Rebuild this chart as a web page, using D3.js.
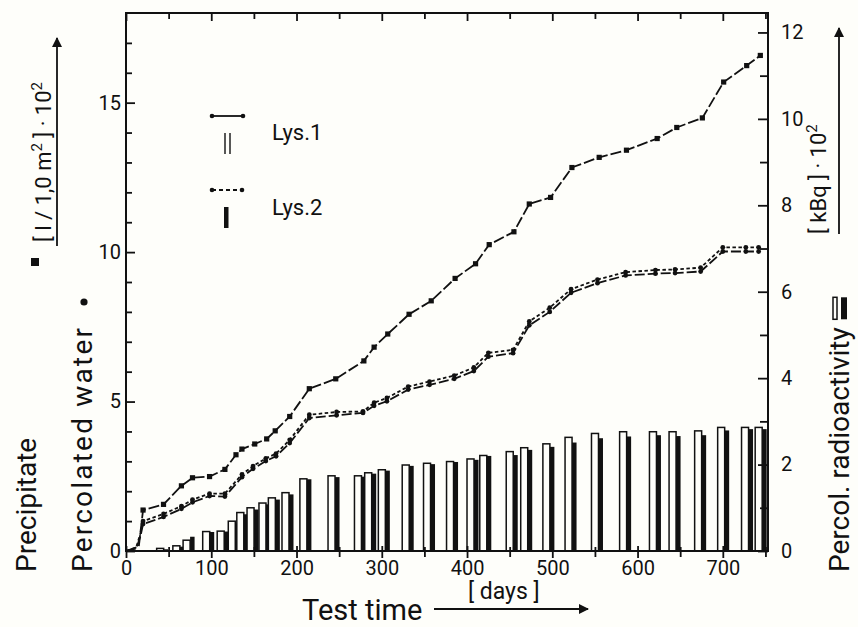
<!DOCTYPE html>
<html>
<head>
<meta charset="utf-8">
<script src="https://cdn.jsdelivr.net/npm/d3@7"></script>
<style>
body { margin: 0; background: #fefefa; }
svg { display: block; font-family: Roboto, "DejaVu Sans", sans-serif; }
</style>
</head>
<body>
<div class="container"></div>
<script>
// precipitation (cumulative, l/1,0m2 * 10^2)
var precipDays = [0, 15, 20, 44, 65, 78, 98, 116, 129, 136, 151, 165, 175, 192, 215, 246, 279, 291, 307, 332, 358, 386, 410, 426, 455, 473, 498, 523, 555, 587, 623, 646, 676, 701, 728, 744];
var precipVals = [0, 0.15, 1.37, 1.56, 2.18, 2.45, 2.49, 2.73, 3.22, 3.41, 3.58, 3.75, 4.02, 4.50, 5.43, 5.76, 6.36, 6.82, 7.26, 7.92, 8.37, 9.12, 9.61, 10.25, 10.68, 11.61, 11.83, 12.83, 13.17, 13.41, 13.80, 14.17, 14.49, 15.69, 16.24, 16.58];

// percolated water
var percDays = [0, 12, 17, 20, 44, 65, 78, 98, 116, 136, 149, 164, 176, 192, 215, 247, 278, 291, 306, 331, 356, 385, 408, 425, 454, 473, 497, 522, 553, 586, 621, 644, 674, 700, 727, 742];
var percLys1 = [0, 0.08, 0.50, 0.90, 1.14, 1.41, 1.63, 1.84, 1.82, 2.47, 2.75, 3.01, 3.17, 3.61, 4.45, 4.54, 4.62, 4.86, 5.01, 5.40, 5.56, 5.76, 6.02, 6.50, 6.62, 7.55, 8.00, 8.64, 8.96, 9.22, 9.28, 9.30, 9.35, 10.02, 10.02, 10.02];
var percLys2 = [0, 0.12, 0.60, 1.00, 1.24, 1.50, 1.72, 1.92, 1.92, 2.56, 2.84, 3.10, 3.26, 3.72, 4.56, 4.65, 4.67, 4.96, 5.12, 5.50, 5.67, 5.87, 6.14, 6.63, 6.73, 7.68, 8.14, 8.76, 9.08, 9.33, 9.40, 9.42, 9.48, 10.16, 10.16, 10.16];

// percolated radioactivity (kBq * 10^2)
var radDays = [43, 62, 74, 97, 114, 127, 137, 149, 163, 174, 190, 211, 244, 275, 287, 303, 331, 356, 383, 407, 422, 453, 470, 496, 522, 553, 586, 621, 644, 674, 701, 729, 745];
var radLys1 = [0.06, 0.12, 0.25, 0.45, 0.46, 0.69, 0.89, 1.00, 1.11, 1.23, 1.35, 1.67, 1.74, 1.74, 1.81, 1.88, 1.99, 2.03, 2.07, 2.13, 2.21, 2.30, 2.39, 2.48, 2.63, 2.72, 2.76, 2.76, 2.76, 2.78, 2.86, 2.86, 2.86];
var radLys2 = [0.04, 0.10, 0.33, 0.44, 0.45, 0.64, 0.85, 0.96, 1.08, 1.19, 1.31, 1.66, 1.71, 1.72, 1.79, 1.86, 1.97, 2.01, 2.06, 2.11, 2.20, 2.22, 2.34, 2.41, 2.51, 2.61, 2.65, 2.68, 2.66, 2.68, 2.79, 2.82, 2.82];

var xMajor = [0, 100, 200, 300, 400, 500, 600, 700];
var xMinor = [50, 150, 250, 350, 450, 550, 650, 750];
var leftMajor = [0, 5, 10, 15];
var leftMinor = [1, 2, 3, 4, 6, 7, 8, 9, 11, 12, 13, 14, 16, 17];
var rightMajor = [0, 2, 4, 6, 8, 10, 12];
var rightMinor = [1, 3, 5, 7, 9, 11];

var width = 858, height = 627;
var ink = "#111";

var svg = d3.select("div.container").append("svg")
    .attr("width", width)
    .attr("height", height);

var x = d3.scaleLinear().domain([0, 753]).range([126, 768]);
var yL = d3.scaleLinear().domain([0, 18]).range([551, 13]);
var yR = d3.scaleLinear().domain([0, 12.45]).range([551, 13]);

// bars: hollow = Lys.1, black = Lys.2
var bars = svg.append("g");
radDays.forEach(function(d, i) {
    var cx = x(d);
    bars.append("rect")
        .attr("x", cx - 6).attr("width", 7)
        .attr("y", yR(radLys1[i])).attr("height", yR(0) - yR(radLys1[i]))
        .attr("fill", "#fefefa").attr("stroke", ink).attr("stroke-width", 1.5);
    bars.append("rect")
        .attr("x", cx + 1).attr("width", 4.5)
        .attr("y", yR(radLys2[i])).attr("height", yR(0) - yR(radLys2[i]))
        .attr("fill", ink);
});

var line = d3.line();

function curve(days, vals, dash) {
    var pts = days.map(function(d, i) { return [x(d), yL(vals[i])]; });
    svg.append("path")
        .attr("d", line(pts))
        .attr("fill", "none")
        .attr("stroke", ink)
        .attr("stroke-width", 1.8)
        .attr("stroke-dasharray", dash);
    return pts;
}

var pp = curve(precipDays, precipVals, "11,3");
svg.append("g").selectAll("rect").data(pp.slice(2)).enter().append("rect")
    .attr("x", function(p) { return p[0] - 2.6; })
    .attr("y", function(p) { return p[1] - 2.6; })
    .attr("width", 5.2).attr("height", 5.2)
    .attr("fill", ink);

var p1 = curve(percDays, percLys1, "10,3");
var p2 = curve(percDays, percLys2, "3.5,2.5");
svg.append("g").selectAll("circle").data(p1.slice(3).concat(p2.slice(3))).enter().append("circle")
    .attr("cx", function(p) { return p[0]; })
    .attr("cy", function(p) { return p[1]; })
    .attr("r", 2.4)
    .attr("fill", ink);

// frame
svg.append("rect")
    .attr("x", 126).attr("y", 13)
    .attr("width", 768 - 126).attr("height", 551 - 13)
    .attr("fill", "none").attr("stroke", ink).attr("stroke-width", 2);

function styleAxis(g) {
    g.select(".domain").remove();
    g.selectAll("line").attr("stroke", ink).attr("stroke-width", 1.8);
    g.selectAll("text").attr("fill", ink).style("font-size", "20px").style("font-family", "Roboto, sans-serif");
}

svg.append("g").attr("transform", "translate(126,0)")
    .call(d3.axisLeft(yL).tickValues(leftMajor).tickSize(-9).tickPadding(5))
    .call(styleAxis);
svg.append("g").attr("transform", "translate(126,0)")
    .call(d3.axisLeft(yL).tickValues(leftMinor).tickSize(-6).tickFormat(""))
    .call(styleAxis);

svg.append("g").attr("transform", "translate(768,0)")
    .call(d3.axisRight(yR).tickValues(rightMajor).tickSize(-10).tickPadding(13))
    .call(styleAxis);
svg.append("g").attr("transform", "translate(768,0)")
    .call(d3.axisRight(yR).tickValues(rightMinor).tickSize(-8).tickFormat(""))
    .call(styleAxis);

var bx = svg.append("g").attr("transform", "translate(0,551)")
    .call(d3.axisBottom(x).tickValues(xMajor).tickSize(7).tickPadding(3))
    .call(styleAxis);
bx.selectAll("line").attr("y1", -5);
var bm = svg.append("g").attr("transform", "translate(0,551)")
    .call(d3.axisBottom(x).tickValues(xMinor).tickSize(6).tickFormat(""))
    .call(styleAxis);
bm.selectAll("line").attr("y1", -4);

svg.append("g").attr("transform", "translate(0,13)")
    .call(d3.axisTop(x).tickValues(xMajor).tickSize(-8).tickFormat(""))
    .call(styleAxis);
svg.append("g").attr("transform", "translate(0,13)")
    .call(d3.axisTop(x).tickValues(xMinor).tickSize(-6).tickFormat(""))
    .call(styleAxis);

// legend
var leg = svg.append("g");
leg.append("line").attr("x1", 212).attr("x2", 243).attr("y1", 116).attr("y2", 116)
    .attr("stroke", ink).attr("stroke-width", 1.8);
leg.append("line").attr("x1", 212).attr("x2", 242).attr("y1", 190).attr("y2", 190)
    .attr("stroke", ink).attr("stroke-width", 1.8).attr("stroke-dasharray", "4,3");
[[212, 116], [243, 116], [212, 190], [242, 190]].forEach(function(p) {
    leg.append("circle").attr("cx", p[0]).attr("cy", p[1]).attr("r", 2.3).attr("fill", ink);
});
leg.append("line").attr("x1", 225).attr("x2", 225).attr("y1", 133).attr("y2", 154).attr("stroke", ink).attr("stroke-width", 1.4);
leg.append("line").attr("x1", 230).attr("x2", 230).attr("y1", 133).attr("y2", 154).attr("stroke", ink).attr("stroke-width", 1.4);
leg.append("rect").attr("x", 224).attr("y", 207).attr("width", 4.5).attr("height", 21).attr("fill", ink);
leg.append("text").attr("x", 272).attr("y", 140).style("font-size", "22px").attr("fill", ink).text("Lys.1");
leg.append("text").attr("x", 272).attr("y", 215).style("font-size", "22px").attr("fill", ink).text("Lys.2");

// arrow head
svg.append("defs").append("marker")
    .attr("id", "arrow")
    .attr("viewBox", "0 -5 10 10")
    .attr("refX", 9)
    .attr("markerWidth", 14)
    .attr("markerHeight", 10)
    .attr("markerUnits", "userSpaceOnUse")
    .attr("orient", "auto")
    .append("path")
    .attr("d", "M0,-5L10,0L0,5Z")
    .attr("fill", ink);

// side labels, left
svg.append("text").attr("transform", "translate(36,572) rotate(-90)")
    .style("font-size", "28px").attr("fill", ink).text("Precipitate");
svg.append("rect").attr("x", 31).attr("y", 258).attr("width", 8).attr("height", 8).attr("fill", ink);
svg.append("text").attr("transform", "translate(92,572) rotate(-90)")
    .attr("textLength", 244).attr("lengthAdjust", "spacing")
    .style("font-size", "28px").attr("fill", ink).text("Percolated water");
svg.append("circle").attr("cx", 84).attr("cy", 302).attr("r", 3.6).attr("fill", ink);

var unitL = svg.append("text").attr("transform", "translate(51,242) rotate(-90)")
    .style("font-size", "22px").attr("fill", ink);
unitL.append("tspan").text("[ l / 1,0 m");
unitL.append("tspan").attr("dy", -9).style("font-size", "15px").text("2");
unitL.append("tspan").attr("dy", 9).text(" ] · 10");
unitL.append("tspan").attr("dy", -9).style("font-size", "15px").text("2");

svg.append("line").attr("x1", 57).attr("x2", 57).attr("y1", 246).attr("y2", 38)
    .attr("stroke", ink).attr("stroke-width", 1.8).attr("marker-end", "url(#arrow)");

// side labels, right
var rl = svg.append("text").attr("transform", "translate(849,572) rotate(-90)")
    .style("font-size", "28px").attr("fill", ink).text("Percol. radioactivity");
var rlEnd = 572 - rl.node().getComputedTextLength();
svg.append("rect").attr("x", 833).attr("y", rlEnd - 30).attr("width", 4).attr("height", 22)
    .attr("fill", "none").attr("stroke", ink).attr("stroke-width", 1.5);
svg.append("rect").attr("x", 841).attr("y", rlEnd - 30).attr("width", 6).attr("height", 22)
    .attr("fill", ink);

var unitR = svg.append("text").attr("transform", "translate(826,234) rotate(-90)")
    .style("font-size", "22px").attr("fill", ink);
unitR.append("tspan").text("[ kBq ] · 10");
unitR.append("tspan").attr("dy", -9).style("font-size", "15px").text("2");

svg.append("line").attr("x1", 839).attr("x2", 839).attr("y1", 234).attr("y2", 28)
    .attr("stroke", ink).attr("stroke-width", 1.8).attr("marker-end", "url(#arrow)");

// bottom label
svg.append("text").attr("x", 302).attr("y", 620)
    .style("font-size", "29px").attr("fill", ink).text("Test time");
svg.append("text").attr("x", 468).attr("y", 599)
    .style("font-size", "23px").attr("fill", ink).text("[ days ]");
svg.append("line").attr("x1", 434).attr("x2", 588).attr("y1", 609).attr("y2", 609)
    .attr("stroke", ink).attr("stroke-width", 1.8).attr("marker-end", "url(#arrow)");
</script>
</body>
</html>
